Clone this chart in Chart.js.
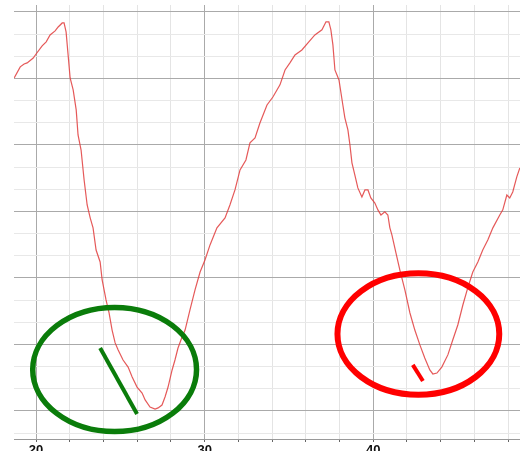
<!DOCTYPE html>
<html>
<head>
<meta charset="utf-8">
<script src="https://cdn.jsdelivr.net/npm/chart.js@4.4.1/dist/chart.umd.min.js"></script>
<style>
  html, body { margin: 0; padding: 0; background: #fff; }
  #wrap { width: 520px; height: 451px; }
</style>
</head>
<body>
<div id="wrap"><canvas id="chart" width="520" height="451"></canvas></div>
<script>
// signal trace
const xValues = [
  18.70, 19.06, 19.29, 19.47, 19.83, 20.00, 20.36, 20.60, 20.83, 21.13,
  21.31, 21.55, 21.66, 21.78, 21.90, 22.02, 22.20, 22.38, 22.49, 22.67,
  22.85, 23.03, 23.21, 23.38, 23.56, 23.80, 23.92, 24.15, 24.33, 24.51,
  24.69, 24.87, 25.16, 25.46, 25.70, 25.99, 26.29, 26.47, 26.76, 27.06,
  27.24, 27.47, 27.65, 27.83, 28.07, 28.24, 28.42, 28.66, 28.84, 29.13,
  29.43, 29.73, 30.02, 30.32, 30.73, 31.21, 31.50, 31.80, 32.10, 32.45,
  32.69, 32.99, 33.28, 33.70, 34.05, 34.47, 34.77, 35.06, 35.36, 35.77,
  36.13, 36.54, 36.96, 37.20, 37.37, 37.49, 37.61, 37.73, 37.97, 38.20,
  38.32, 38.50, 38.62, 38.74, 38.91, 39.09, 39.33, 39.51, 39.69, 39.86,
  40.10, 40.28, 40.46, 40.69, 40.87, 40.99, 41.11, 41.35, 41.58, 41.88,
  42.18, 42.47, 42.77, 43.06, 43.36, 43.54, 43.78, 44.07, 44.43, 44.72,
  45.02, 45.32, 45.61, 45.91, 46.21, 46.50, 46.80, 47.10, 47.51, 47.69,
  47.93, 48.10, 48.28, 48.52, 48.70
]
const yValues = [
  15.02, 15.52, 15.65, 15.70, 15.92, 16.10, 16.47, 16.65, 16.96, 17.14,
  17.32, 17.50, 17.50, 17.10, 16.06, 15.02, 14.48, 13.58, 12.45, 11.77,
  10.42, 9.29, 8.71, 8.26, 7.26, 6.72, 5.91, 5.01, 4.42, 3.65,
  3.07, 2.75, 2.30, 1.98, 1.53, 1.08, 0.81, 0.50, 0.18, 0.09,
  0.14, 0.27, 0.63, 1.08, 1.85, 2.30, 2.84, 3.34, 3.65, 4.56,
  5.46, 6.27, 6.81, 7.49, 8.26, 8.71, 9.29, 9.97, 10.87, 11.32,
  12.09, 12.31, 12.99, 13.80, 14.16, 14.71, 15.38, 15.70, 16.06, 16.28,
  16.60, 16.96, 17.19, 17.55, 17.55, 17.19, 16.51, 15.38, 14.93, 13.80,
  13.22, 12.68, 12.00, 11.19, 10.65, 10.06, 9.65, 9.97, 9.97, 9.61,
  9.38, 9.07, 8.84, 8.98, 8.84, 8.26, 7.94, 7.13, 6.36, 5.46,
  4.42, 3.65, 2.98, 2.39, 1.85, 1.67, 1.71, 1.98, 2.53, 3.20,
  3.88, 4.78, 5.55, 6.27, 6.72, 7.26, 7.71, 8.26, 8.84, 9.07,
  9.74, 9.61, 9.88, 10.56, 10.96
]

// hand drawn marks: [cx, cy, rx, ry] and [x1, y1, x2, y2], in data units
const greenEllipse = [24.66, 1.87, 4.86, 2.80]
const greenStroke = [23.80, 2.84, 25.99, -0.14]
const redEllipse = [42.68, 3.47, 4.80, 2.74]
const redStroke = [42.35, 2.08, 42.95, 1.35]

const xLabels = [20, 30, 40]

const points = xValues.map((x, i) => ({ x: x, y: yValues[i] }))

const marks = {
  id: 'marks',
  afterDatasetsDraw(chart) {
    const ctx = chart.ctx
    const xs = chart.scales.x
    const ys = chart.scales.y

    function ellipse(e, color, width) {
      const cx = xs.getPixelForValue(e[0])
      const cy = ys.getPixelForValue(e[1])
      const rx = Math.abs(xs.getPixelForValue(e[0] + e[2]) - cx)
      const ry = Math.abs(ys.getPixelForValue(e[1] + e[3]) - cy)
      ctx.save()
      ctx.beginPath()
      ctx.ellipse(cx, cy, rx, ry, 0, 0, Math.PI * 2)
      ctx.strokeStyle = color
      ctx.lineWidth = width
      ctx.stroke()
      ctx.restore()
    }

    function stroke(s, color, width) {
      ctx.save()
      ctx.beginPath()
      ctx.moveTo(xs.getPixelForValue(s[0]), ys.getPixelForValue(s[1]))
      ctx.lineTo(xs.getPixelForValue(s[2]), ys.getPixelForValue(s[3]))
      ctx.strokeStyle = color
      ctx.lineWidth = width
      ctx.stroke()
      ctx.restore()
    }

    ellipse(greenEllipse, '#0a7c0a', 5.5)
    stroke(greenStroke, '#0a7c0a', 4)
    ellipse(redEllipse, '#ff0000', 6)
    stroke(redStroke, '#ff0000', 4)
  }
}

new Chart(document.getElementById('chart'), {
  type: 'line',
  data: {
    datasets: [{
      data: points,
      borderColor: 'rgba(225,60,60,0.85)',
      borderWidth: 1.2,
      pointRadius: 0,
      tension: 0,
      fill: false
    }]
  },
  options: {
    responsive: false,
    animation: false,
    layout: { padding: { top: 5, left: 0, right: 0, bottom: 0 } },
    plugins: { legend: { display: false }, tooltip: { enabled: false } },
    scales: {
      x: {
        type: 'linear',
        min: 18.69,
        max: 48.71,
        afterFit(scale) { scale.height = 12 },
        border: { display: true, color: '#999', width: 1 },
        grid: {
          color: (c) => (Math.round(c.tick.value) % 10 === 0 ? '#aaaaaa' : '#e4e4e4'),
          tickColor: '#666',
          tickLength: 3
        },
        ticks: {
          stepSize: 2,
          includeBounds: false,
          autoSkip: false,
          maxRotation: 0,
          padding: 1,
          color: '#111',
          font: { family: 'Liberation Sans', size: 13, weight: 'bold' },
          callback: (v) => (xLabels.includes(Math.round(v)) ? String(Math.round(v)) : '')
        }
      },
      y: {
        type: 'linear',
        min: -1.263,
        max: 18.31,
        afterFit(scale) { scale.width = 14 },
        border: { display: false },
        grid: {
          color: (c) => (Math.round(c.tick.value) % 3 === 0 ? '#aaaaaa' : '#e8e8e8'),
          drawTicks: false
        },
        ticks: { display: false, stepSize: 1, includeBounds: false }
      }
    }
  },
  plugins: [marks]
})
</script>
</body>
</html>
